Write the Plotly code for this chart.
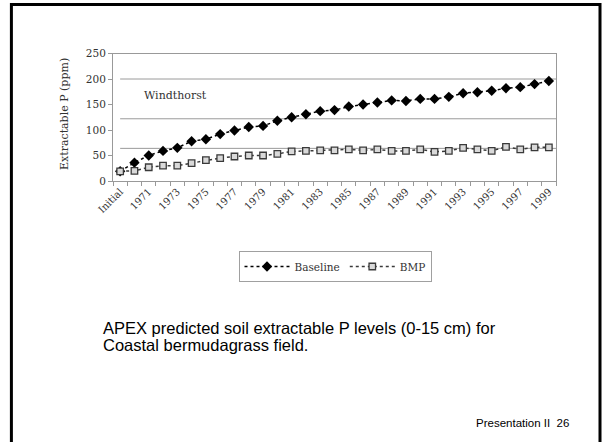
import plotly.graph_objects as go

# Categories along the x axis
periods = ["Initial", "1970", "1971", "1972", "1973", "1974", "1975", "1976",
           "1977", "1978", "1979", "1980", "1981", "1982", "1983", "1984",
           "1985", "1986", "1987", "1988", "1989", "1990", "1991", "1992",
           "1993", "1994", "1995", "1996", "1997", "1998", "1999"]

# Soil extractable P (ppm) for each scenario
baseline = [19, 36, 50, 59, 65, 78, 82, 92, 99, 106, 108, 118, 125, 131, 137,
            139, 146, 150, 154, 158, 157, 161, 161, 165, 172, 174, 177, 182,
            184, 190, 196]
bmp = [19, 20, 27, 30, 30, 35, 41, 45, 48, 50, 50, 53, 58, 59, 60,
       60, 62, 60, 62, 59, 59, 62, 57, 59, 65, 62, 59, 67, 62, 66, 66]

# Windthorst reference levels (ppm)
windthorst_levels = [200, 122, 64]

# Only every other category gets a label
tick_labels = [p if i % 2 == 0 else "" for i, p in enumerate(periods)]

W, H = 602, 442
SERIF = "DejaVu Serif"
SANS = "Liberation Sans, Arial"


def px_x(x):
    return x / W


def px_y(y):
    return (H - y) / H


fig = go.Figure()

fig.add_trace(go.Scatter(
    x=periods, y=baseline, name="Baseline", mode="lines+markers",
    line=dict(color="black", dash="dot", width=1.5),
    marker=dict(symbol="diamond", size=8, color="black"),
))
fig.add_trace(go.Scatter(
    x=periods, y=bmp, name="BMP", mode="lines+markers",
    line=dict(color="#3a3a3a", dash="dot", width=1.5),
    marker=dict(symbol="square", size=6.5, color="#d9d9d9",
                line=dict(color="#3a3a3a", width=1.3)),
))

shapes = []
for lvl in windthorst_levels:
    shapes.append(dict(type="line", xref="x", yref="y",
                       x0=periods[0], x1=periods[-1], y0=lvl, y1=lvl,
                       line=dict(color="#9a9a9a", width=1), layer="below"))

# Slide frame
shapes.append(dict(type="rect", xref="paper", yref="paper",
                   x0=px_x(11.4), x1=px_x(600), y0=px_y(470), y1=px_y(4.6),
                   line=dict(color="black", width=3)))

annotations = [
    dict(text="Windthorst", xref="paper", yref="paper",
         x=px_x(175), y=px_y(95), xanchor="center", yanchor="middle",
         showarrow=False, font=dict(family=SERIF, size=11, color="#333333")),
    dict(text="Extractable P (ppm)", xref="paper", yref="paper",
         x=px_x(65), y=px_y(114), xanchor="center", yanchor="middle",
         textangle=-90, showarrow=False,
         font=dict(family=SERIF, size=11, color="#333333")),
    dict(text="APEX predicted soil extractable P levels (0-15 cm) for",
         xref="paper", yref="paper", x=px_x(101), y=px_y(328),
         xanchor="left", yanchor="middle", showarrow=False,
         font=dict(family=SANS, size=16.5, color="black")),
    dict(text="Coastal bermudagrass field.",
         xref="paper", yref="paper", x=px_x(101), y=px_y(345),
         xanchor="left", yanchor="middle", showarrow=False,
         font=dict(family=SANS, size=16.5, color="black")),
    dict(text="Presentation II\u00a0\u00a026",
         xref="paper", yref="paper", x=px_x(474), y=px_y(423),
         xanchor="left", yanchor="middle", showarrow=False,
         font=dict(family=SANS, size=11.5, color="black")),
]

fig.update_layout(
    width=W, height=H,
    margin=dict(l=0, r=0, t=0, b=0),
    paper_bgcolor="white", plot_bgcolor="white",
    shapes=shapes, annotations=annotations,
    showlegend=True,
    legend=dict(orientation="h", x=px_x(335), y=px_y(251),
                xanchor="center", yanchor="top",
                bordercolor="#a0a0a0", borderwidth=1, bgcolor="white",
                font=dict(family=SERIF, size=10.5, color="#333333"),
                itemwidth=45, tracegroupgap=0),
    xaxis=dict(
        type="category", domain=[px_x(113), px_x(556)],
        range=[-0.5, len(periods) - 0.5], automargin=False,
        tickmode="array", tickvals=periods, ticktext=tick_labels,
        tickson="boundaries", ticks="outside", ticklen=4,
        tickcolor="#999999", tickangle=-45,
        tickfont=dict(family=SERIF, size=10, color="#333333"),
        showline=True, linecolor="#999999", linewidth=1, mirror=True,
        showgrid=False, zeroline=False,
    ),
    yaxis=dict(
        domain=[px_y(181), px_y(53.5)], range=[0, 250], automargin=False,
        tickmode="linear", tick0=0, dtick=50,
        ticks="outside", ticklen=4, tickcolor="#999999",
        tickfont=dict(family=SERIF, size=10.5, color="#333333"),
        showline=True, linecolor="#999999", linewidth=1, mirror=True,
        showgrid=False, zeroline=False,
    ),
)

fig.write_html("out.html")
